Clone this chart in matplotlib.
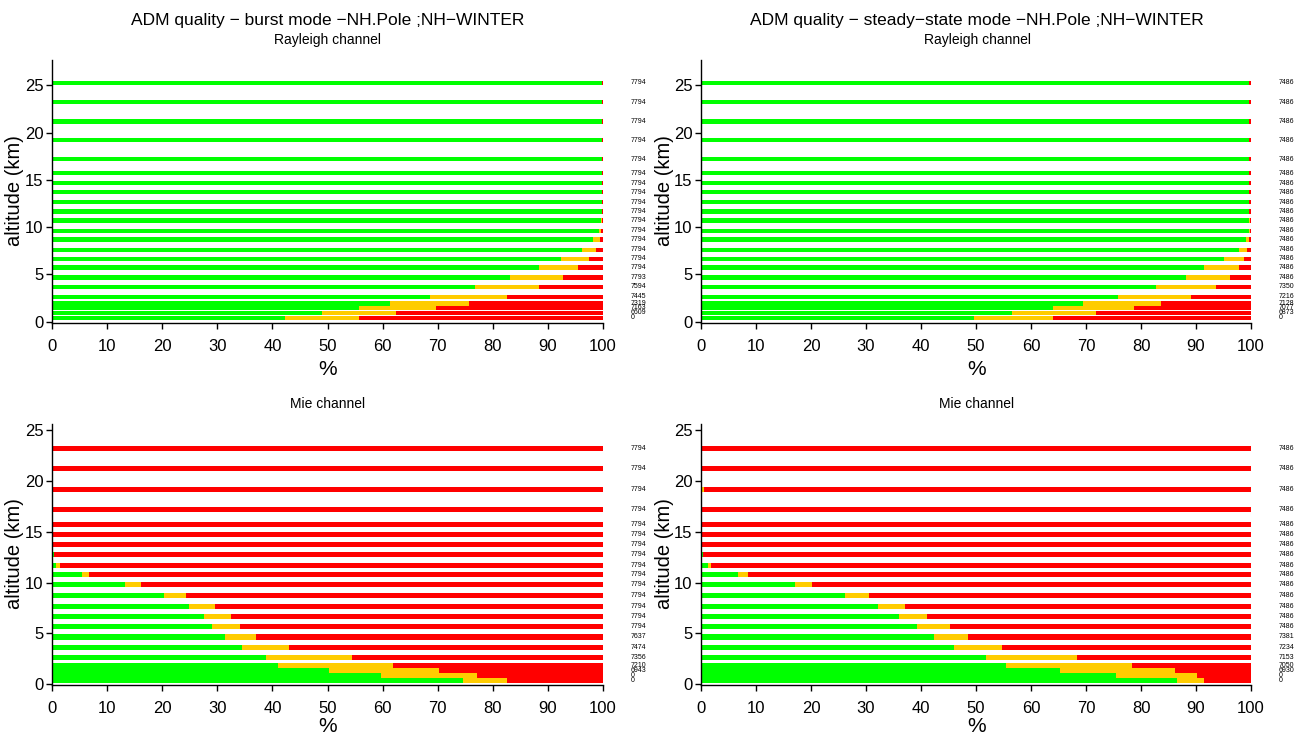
import numpy as np
import matplotlib
matplotlib.use("Agg")
import matplotlib.pyplot as plt

plt.rcParams['font.family'] = ['Liberation Sans', 'DejaVu Sans']

# altitude of each bin (km), top to bottom
ray_alt = [25.3, 23.25, 21.2, 19.2, 17.2, 15.7, 14.65, 13.7, 12.65, 11.65, 10.7,
           9.63, 8.69, 7.6, 6.64, 5.72, 4.66, 3.67, 2.61, 1.91, 1.47, 0.92, 0.39]
mie_alt = [23.2, 21.24, 19.18, 17.22, 15.7, 14.7, 13.75, 12.73, 11.7, 10.78, 9.78,
           8.7, 7.67, 6.68, 5.68, 4.65, 3.64, 2.66, 1.85, 1.36, 0.87, 0.37]

# cumulative % : end of green (good) and end of yellow (medium); rest is red
ray_burst_green = [99.8, 99.8, 99.8, 99.8, 99.8, 99.8, 99.8, 99.8, 99.8, 99.8, 99.7,
                   99.3, 98.2, 96.2, 92.4, 88.3, 83.1, 76.8, 68.6, 61.3, 55.8, 49.0, 42.3]
ray_burst_yellow = [99.8, 99.8, 99.8, 99.8, 99.8, 99.8, 99.8, 99.8, 99.8, 99.8, 99.8,
                    99.6, 99.4, 98.7, 97.5, 95.5, 92.8, 88.3, 82.6, 75.7, 69.7, 62.5, 55.8]
ray_steady_green = [99.7, 99.7, 99.7, 99.7, 99.7, 99.7, 99.7, 99.7, 99.7, 99.7, 99.7,
                    99.6, 99.1, 97.8, 95.0, 91.5, 88.1, 82.8, 75.8, 69.4, 64.0, 56.5, 49.6]
ray_steady_yellow = [99.7, 99.7, 99.7, 99.7, 99.7, 99.7, 99.7, 99.7, 99.7, 99.7, 99.8,
                     99.8, 99.6, 99.3, 98.7, 97.8, 96.1, 93.6, 89.1, 83.7, 78.8, 71.9, 64.0]
mie_burst_green = [0.0, 0.15, 0.0, 0.0, 0.0, 0.0, 0.2, 0.3, 0.8, 5.4, 13.3,
                   20.4, 24.8, 27.5, 29.1, 31.4, 34.4, 38.9, 41.1, 50.3, 59.7, 74.6]
mie_burst_yellow = [0.0, 0.15, 0.2, 0.2, 0.2, 0.2, 0.2, 0.3, 1.4, 6.8, 16.2,
                    24.3, 29.5, 32.4, 34.2, 37.1, 43.1, 54.5, 61.9, 70.3, 77.2, 82.6]
mie_steady_green = [0.0, 0.2, 0.2, 0.2, 0.15, 0.15, 0.2, 0.3, 1.3, 6.8, 17.1,
                    26.2, 32.2, 36.0, 39.3, 42.4, 46.0, 51.8, 55.4, 65.2, 75.4, 86.6]
mie_steady_yellow = [0.0, 0.2, 0.5, 0.2, 0.15, 0.15, 0.2, 0.3, 1.9, 8.6, 20.2,
                     30.6, 37.1, 41.1, 45.3, 48.5, 54.7, 68.3, 78.4, 86.1, 90.1, 91.5]

# number of observations per bin
ray_burst_n = [7794] * 16 + [7793, 7594, 7445, 7319, 7163, 6609, 0]
ray_steady_n = [7486] * 17 + [7350, 7216, 7128, 7077, 6873, 0]
mie_burst_n = [7794] * 15 + [7637, 7474, 7356, 7210, 6943, 0, 0]
mie_steady_n = [7486] * 15 + [7381, 7234, 7153, 7050, 6930, 0, 0]

GREEN, YELLOW, RED = '#00ff00', '#ffcc00', '#ff0000'
W, H = 1294, 738


def draw_panel(ax, alt, green, yellow, counts, bar_h, ylim):
    alt = np.array(alt)
    g = np.array(green)
    y = np.array(yellow)
    ax.barh(alt, g, height=bar_h, color=GREEN, linewidth=0)
    ax.barh(alt, y - g, left=g, height=bar_h, color=YELLOW, linewidth=0)
    ax.barh(alt, 100 - y, left=y, height=bar_h, color=RED, linewidth=0)
    for a, n in zip(alt, counts):
        ax.text(105, a, str(n), fontsize=5, ha='left', va='center', clip_on=False)
    ax.set_xlim(0, 100)
    ax.set_ylim(*ylim)
    ax.set_xticks(range(0, 101, 10))
    ax.set_yticks(range(0, 26, 5))
    for s in ['top', 'right']:
        ax.spines[s].set_visible(False)
    for s in ['left', 'bottom']:
        ax.spines[s].set_linewidth(1.0)
    ax.tick_params(direction='out', length=4, width=1, labelsize=12)
    ax.tick_params(axis='x', pad=8)
    ax.tick_params(axis='y', pad=2)


fig = plt.figure(figsize=(W / 100, H / 100), dpi=100)

ax1 = fig.add_axes([0.0402, 0.563, 0.4258, 0.3557])
ax2 = fig.add_axes([0.5417, 0.563, 0.4251, 0.3557])
ax3 = fig.add_axes([0.0402, 0.0721, 0.4258, 0.3528])
ax4 = fig.add_axes([0.5417, 0.0721, 0.4251, 0.3528])

draw_panel(ax1, ray_alt, ray_burst_green, ray_burst_yellow, ray_burst_n, 0.45, (-0.1, 27.7))
draw_panel(ax2, ray_alt, ray_steady_green, ray_steady_yellow, ray_steady_n, 0.45, (-0.1, 27.7))
draw_panel(ax3, mie_alt, mie_burst_green, mie_burst_yellow, mie_burst_n, 0.5, (-0.05, 25.55))
draw_panel(ax4, mie_alt, mie_steady_green, mie_steady_yellow, mie_steady_n, 0.5, (-0.05, 25.55))

# axis labels, placed in figure pixels to follow the reference
for cx in (328, 977):
    fig.text(cx / W, 1 - 370 / H, '%', fontsize=15, ha='center', va='center')
    fig.text(cx / W, 1 - 727 / H, '%', fontsize=15, ha='center', va='center')
for lx in (15, 664):
    fig.text(lx / W, 1 - 191 / H, 'altitude (km)', fontsize=14.5, rotation=90,
             ha='center', va='center')
    fig.text(lx / W, 1 - 554 / H, 'altitude (km)', fontsize=14.5, rotation=90,
             ha='center', va='center')

fig.text(328 / W, 1 - 20 / H, 'ADM quality \u2212 burst mode \u2212NH.Pole ;NH\u2212WINTER',
         fontsize=12.5, ha='center', va='center')
fig.text(977 / W, 1 - 20 / H, 'ADM quality \u2212 steady\u2212state mode \u2212NH.Pole ;NH\u2212WINTER',
         fontsize=12.5, ha='center', va='center')
for cx in (328, 977):
    fig.text(cx / W, 1 - 40 / H, 'Rayleigh channel', fontsize=10, ha='center', va='center')
    fig.text(cx / W, 1 - 404 / H, 'Mie channel', fontsize=10, ha='center', va='center')

fig.savefig('out.png', dpi=100)
